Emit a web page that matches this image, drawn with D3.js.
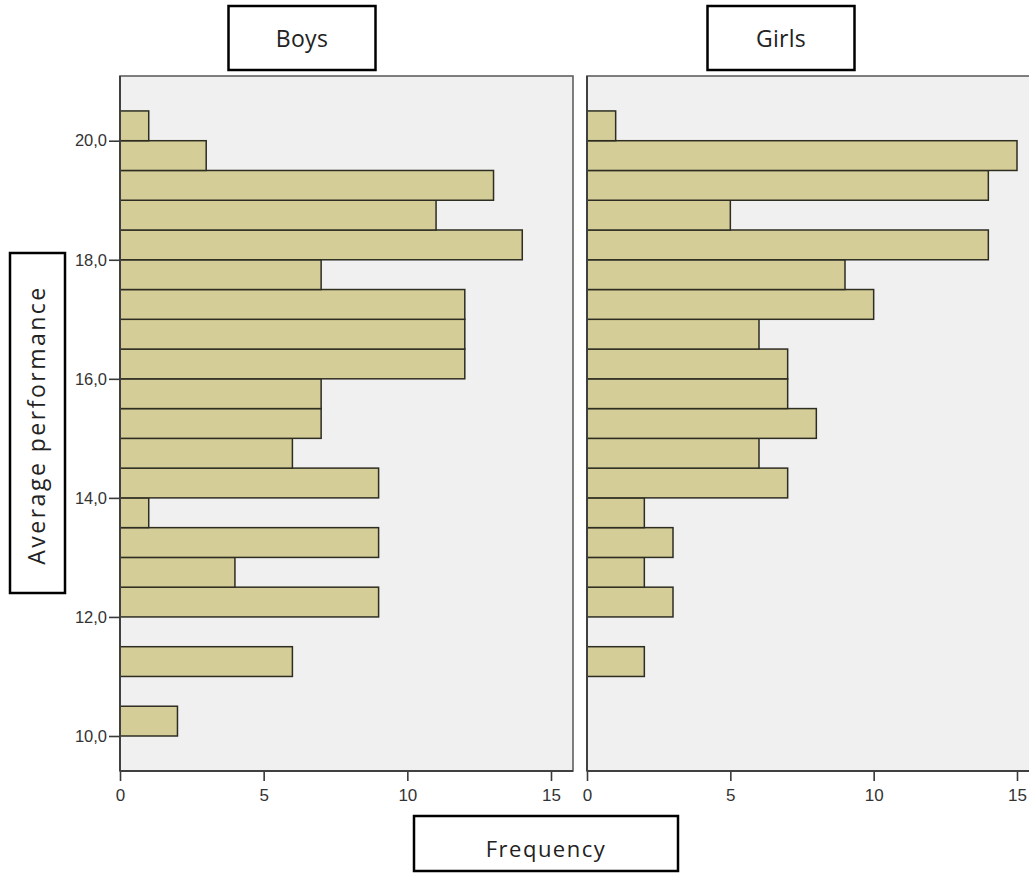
<!DOCTYPE html>
<html>
<head>
<meta charset="utf-8">
<script src="https://cdn.jsdelivr.net/npm/d3@7"></script>
<style>
  body { margin: 0; background: #ffffff; }
  #chart-container { width: 1029px; height: 873px; overflow: hidden; }
</style>
</head>
<body>
<div id="chart-container"></div>
<script>
// Bin starts (lower edge of each 0.5-wide bin) for "Average performance"
const binStarts = [10.0, 10.5, 11.0, 11.5, 12.0, 12.5, 13.0, 13.5, 14.0, 14.5,
                   15.0, 15.5, 16.0, 16.5, 17.0, 17.5, 18.0, 18.5, 19.0, 19.5, 20.0];
const binWidth = 0.5;

// Frequencies per bin
const boysCounts  = [2, 0, 6, 0, 9, 4, 9, 1, 9, 6, 7, 7, 12, 12, 12, 7, 14, 11, 13, 3, 1];
const girlsCounts = [0, 0, 2, 0, 3, 2, 3, 2, 7, 6, 8, 7, 7, 6, 10, 9, 14, 5, 14, 15, 1];

// Tick labels
const yTicks = [10, 12, 14, 16, 18, 20];
const xTicks = [0, 5, 10, 15];

const panelNames = ["Boys", "Girls"];

function createHistogramPanels() {
  const svg = d3.select("#chart-container")
    .append("svg")
    .attr("width", 1029)
    .attr("height", 873);

  // shared vertical scale
  const y = d3.scaleLinear()
    .domain([9.412, 21.087])
    .range([771, 76]);

  // one horizontal scale per panel
  const panels = [
    { name: panelNames[0], counts: boysCounts,  x: d3.scaleLinear().domain([0, 15]).range([120, 551]), right: 573 },
    { name: panelNames[1], counts: girlsCounts, x: d3.scaleLinear().domain([0, 15]).range([587, 1017]), right: 1040 }
  ];

  const barFill = "#d4cd98";
  const barStroke = "#2e2d22";
  const tickColor = "#3a3a3a";

  panels.forEach((p, i) => {
    const g = svg.append("g").attr("class", "panel-" + i);

    // panel background + frame
    g.append("rect")
      .attr("x", p.x(0))
      .attr("y", y.range()[1])
      .attr("width", p.right - p.x(0))
      .attr("height", y.range()[0] - y.range()[1])
      .style("fill", "#f0f0f0")
      .style("stroke", "#606060")
      .style("stroke-width", 1.6);

    // bars
    const bins = binStarts.map((b, k) => ({ start: b, count: p.counts[k] }))
      .filter(d => d.count > 0);

    g.selectAll("rect.bar")
      .data(bins)
      .enter()
      .append("rect")
      .attr("class", "bar")
      .attr("x", p.x(0))
      .attr("y", d => y(d.start + binWidth))
      .attr("width", d => p.x(d.count) - p.x(0))
      .attr("height", d => y(d.start) - y(d.start + binWidth))
      .style("fill", barFill)
      .style("stroke", barStroke)
      .style("stroke-width", 1.5);

    // left spine drawn over bars
    g.append("line")
      .attr("x1", p.x(0)).attr("x2", p.x(0))
      .attr("y1", y.range()[1]).attr("y2", y.range()[0])
      .style("stroke", "#404040")
      .style("stroke-width", 2);

    // bottom axis
    const xAxis = g.append("g")
      .attr("transform", `translate(0, ${y.range()[0]})`)
      .call(d3.axisBottom(p.x).tickValues(xTicks).tickSize(10).tickPadding(8).tickFormat(d3.format("d")));
    xAxis.select(".domain").remove();
    xAxis.selectAll("line").style("stroke", tickColor).style("stroke-width", 1.6);
    xAxis.selectAll("text")
      .style("fill", "#333")
      .style("font-family", "'Liberation Sans', Arial, sans-serif")
      .style("font-size", "17px");

    // bottom frame line over ticks
    g.append("line")
      .attr("x1", p.x(0)).attr("x2", p.right)
      .attr("y1", y.range()[0]).attr("y2", y.range()[0])
      .style("stroke", "#404040")
      .style("stroke-width", 2);

    // panel title box
    const cx = i === 0 ? 302 : 781;
    const bw = 147;
    g.append("rect")
      .attr("x", cx - bw / 2)
      .attr("y", 6)
      .attr("width", bw)
      .attr("height", 64)
      .style("fill", "#fff")
      .style("stroke", "#000")
      .style("stroke-width", 2.5);
    g.append("text")
      .attr("x", cx)
      .attr("y", 47)
      .attr("text-anchor", "middle")
      .text(p.name)
      .style("fill", "#222")
      .style("font-family", "'Open Sans', sans-serif")
      .style("font-size", "23px")
      .style("letter-spacing", "0.3px");
  });

  // left axis (only on first panel)
  const yAxis = svg.append("g")
    .attr("transform", `translate(${panels[0].x(0)}, 0)`)
    .call(d3.axisLeft(y).tickValues(yTicks).tickSize(11).tickPadding(2).tickFormat(d => d3.format(".1f")(d).replace(".", ",")));
  yAxis.select(".domain").remove();
  yAxis.selectAll("line").style("stroke", tickColor).style("stroke-width", 1.6);
  yAxis.selectAll("text")
    .style("fill", "#333")
    .style("font-family", "'Liberation Sans', Arial, sans-serif")
    .style("font-size", "16.5px");

  // y axis label box
  svg.append("rect")
    .attr("x", 10)
    .attr("y", 253)
    .attr("width", 55)
    .attr("height", 340)
    .style("fill", "#fff")
    .style("stroke", "#000")
    .style("stroke-width", 2.5);
  svg.append("text")
    .attr("text-anchor", "middle")
    .attr("transform", "translate(45, 425) rotate(-90)")
    .text("Average performance")
    .style("fill", "#222")
    .style("font-family", "'Open Sans', sans-serif")
    .style("font-size", "23px")
    .style("letter-spacing", "2.5px");

  // x axis label box
  svg.append("rect")
    .attr("x", 414)
    .attr("y", 816)
    .attr("width", 264)
    .attr("height", 55)
    .style("fill", "#fff")
    .style("stroke", "#000")
    .style("stroke-width", 2.5);
  svg.append("text")
    .attr("x", 546)
    .attr("y", 857)
    .attr("text-anchor", "middle")
    .text("Frequency")
    .style("fill", "#222")
    .style("font-family", "'Open Sans', sans-serif")
    .style("font-size", "22px")
    .style("letter-spacing", "1.5px");
}

createHistogramPanels();
</script>
</body>
</html>
